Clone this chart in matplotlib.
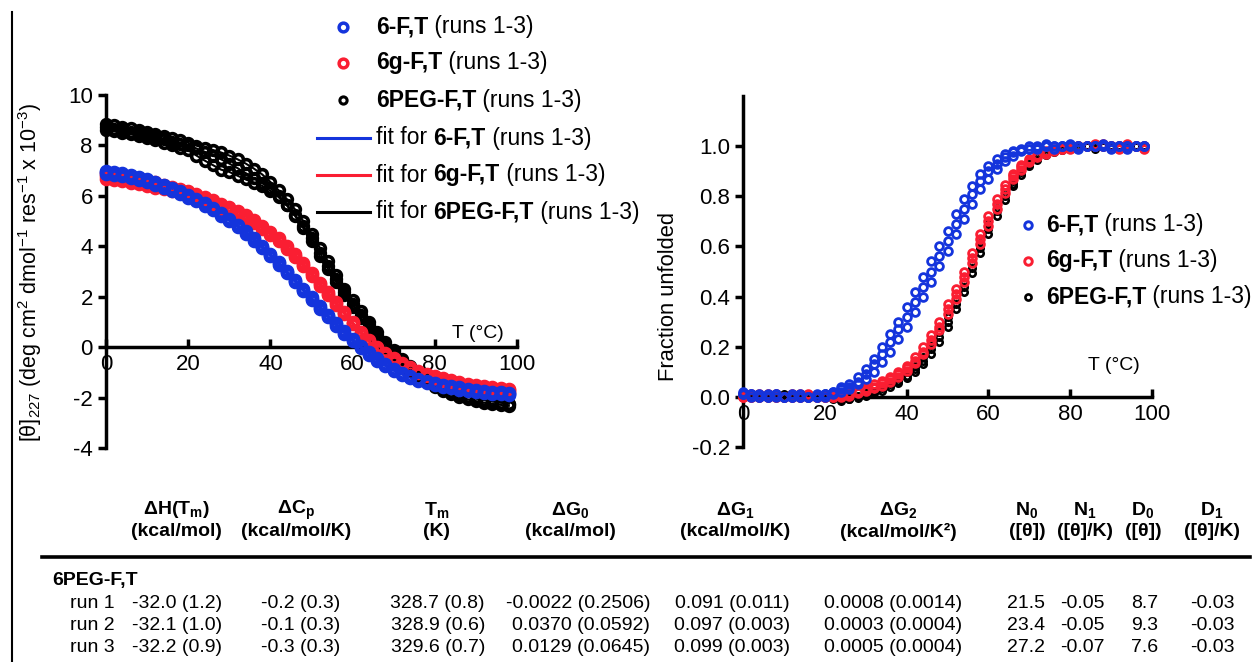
import matplotlib
matplotlib.use("Agg")
import matplotlib.pyplot as plt
from matplotlib.lines import Line2D

plt.rcParams['font.family'] = ['Liberation Sans', 'DejaVu Sans']
plt.rcParams['mathtext.fontset'] = 'custom'
plt.rcParams['mathtext.rm'] = 'Liberation Sans'
plt.rcParams['mathtext.it'] = 'Liberation Sans:italic'
plt.rcParams['mathtext.bf'] = 'Liberation Sans:bold'
plt.rcParams['axes.unicode_minus'] = False

# Temperaturas (°C)
temps = [0, 2, 4, 6, 8, 10, 12, 14, 16, 18, 20, 22, 24, 26, 28, 30, 32, 34, 36, 38,
         40, 42, 44, 46, 48, 50, 52, 54, 56, 58, 60, 62, 64, 66, 68, 70, 72, 74, 76, 78,
         80, 82, 84, 86, 88, 90, 92, 94, 96, 98]

# [theta]227 x 10^-3, runs 1-3
blue_cd1 = [7.0, 6.95, 6.89, 6.82, 6.74, 6.65, 6.55, 6.44, 6.32, 6.19, 6.05, 5.89, 5.72, 5.53, 5.32, 5.1, 4.86, 4.6, 4.32, 4.02,
            3.7, 3.37, 3.03, 2.68, 2.32, 1.97, 1.62, 1.28, 0.95, 0.63, 0.33, 0.05, -0.21, -0.45, -0.67, -0.86, -1.01, -1.14, -1.25, -1.34,
            -1.42, -1.49, -1.55, -1.6, -1.65, -1.69, -1.73, -1.76, -1.79, -1.82]
blue_cd2 = [6.95, 6.9, 6.84, 6.77, 6.69, 6.6, 6.5, 6.39, 6.27, 6.14, 6.0, 5.84, 5.67, 5.48, 5.27, 5.05, 4.81, 4.55, 4.27, 3.97,
            3.65, 3.32, 2.98, 2.63, 2.27, 1.92, 1.57, 1.23, 0.9, 0.58, 0.28, 0.0, -0.26, -0.5, -0.72, -0.9, -1.05, -1.18, -1.29, -1.38,
            -1.46, -1.53, -1.59, -1.64, -1.69, -1.73, -1.77, -1.8, -1.83, -1.86]
blue_cd3 = [6.88, 6.83, 6.77, 6.7, 6.62, 6.53, 6.43, 6.32, 6.2, 6.07, 5.93, 5.78, 5.61, 5.42, 5.22, 5.0, 4.76, 4.5, 4.22, 3.92,
            3.6, 3.27, 2.93, 2.58, 2.22, 1.87, 1.52, 1.18, 0.85, 0.54, 0.24, -0.04, -0.3, -0.54, -0.76, -0.94, -1.09, -1.22, -1.33, -1.42,
            -1.5, -1.57, -1.63, -1.68, -1.73, -1.77, -1.81, -1.84, -1.87, -1.9]
red_cd1 = [6.9, 6.85, 6.79, 6.73, 6.67, 6.6, 6.53, 6.45, 6.37, 6.28, 6.18, 6.07, 5.95, 5.82, 5.68, 5.56, 5.41, 5.24, 5.04, 4.82,
           4.58, 4.31, 4.01, 3.68, 3.33, 2.96, 2.56, 2.18, 1.8, 1.4, 1.0, 0.62, 0.3, 0.01, -0.24, -0.45, -0.63, -0.79, -0.93, -1.05,
           -1.15, -1.24, -1.32, -1.39, -1.45, -1.5, -1.55, -1.59, -1.63, -1.67]
red_cd2 = [6.78, 6.73, 6.68, 6.62, 6.56, 6.5, 6.43, 6.36, 6.28, 6.19, 6.09, 5.98, 5.86, 5.73, 5.6, 5.5, 5.35, 5.18, 4.98, 4.76,
           4.52, 4.25, 3.95, 3.62, 3.27, 2.9, 2.5, 2.12, 1.75, 1.35, 0.95, 0.57, 0.25, -0.04, -0.28, -0.49, -0.67, -0.83, -0.97, -1.09,
           -1.19, -1.28, -1.36, -1.43, -1.49, -1.54, -1.59, -1.63, -1.67, -1.71]
red_cd3 = [6.66, 6.62, 6.57, 6.52, 6.46, 6.4, 6.33, 6.26, 6.18, 6.1, 6.0, 5.9, 5.78, 5.65, 5.52, 5.42, 5.28, 5.11, 4.92, 4.7,
           4.46, 4.19, 3.89, 3.56, 3.21, 2.84, 2.44, 2.06, 1.69, 1.3, 0.9, 0.52, 0.2, -0.09, -0.33, -0.54, -0.72, -0.88, -1.02, -1.14,
           -1.24, -1.33, -1.41, -1.48, -1.54, -1.59, -1.64, -1.68, -1.72, -1.76]
black_cd1 = [8.85, 8.8, 8.74, 8.68, 8.61, 8.54, 8.46, 8.38, 8.29, 8.2, 8.1, 7.99, 7.9, 7.82, 7.72, 7.6, 7.45, 7.28, 7.08, 6.85,
             6.55, 6.22, 5.87, 5.46, 5.0, 4.5, 3.95, 3.4, 2.85, 2.3, 1.85, 1.42, 1.0, 0.6, 0.22, -0.13, -0.46, -0.76, -1.03, -1.26,
             -1.46, -1.62, -1.76, -1.87, -1.96, -2.03, -2.09, -2.15, -2.2, -2.24]
black_cd2 = [8.72, 8.67, 8.61, 8.55, 8.48, 8.41, 8.33, 8.24, 8.15, 8.06, 8.0, 7.88, 7.75, 7.6, 7.45, 7.28, 7.1, 6.9, 6.7, 6.5,
             6.3, 6.0, 5.65, 5.25, 4.8, 4.32, 3.75, 3.22, 2.7, 2.18, 1.7, 1.28, 0.88, 0.5, 0.13, -0.2, -0.52, -0.81, -1.06, -1.28,
             -1.47, -1.63, -1.77, -1.88, -1.97, -2.04, -2.1, -2.15, -2.2, -2.24]
black_cd3 = [8.62, 8.57, 8.51, 8.45, 8.38, 8.3, 8.21, 8.11, 8.0, 7.9, 7.8, 7.6, 7.4, 7.22, 7.04, 6.95, 6.8, 6.65, 6.52, 6.4,
             6.2, 5.95, 5.62, 5.2, 4.72, 4.2, 3.6, 3.1, 2.58, 2.06, 1.58, 1.15, 0.75, 0.38, 0.02, -0.3, -0.62, -0.9, -1.15, -1.38,
             -1.57, -1.73, -1.87, -1.98, -2.07, -2.14, -2.2, -2.25, -2.29, -2.33]

# Fraccion desplegada, runs 1-3
blue_fu1 = [0.02, 0.01, 0.01, 0.0, 0.01, 0.0, 0.0, 0.01, 0.0, 0.01, 0.01, 0.02, 0.04, 0.05, 0.08, 0.11, 0.15, 0.2, 0.25, 0.3,
            0.36, 0.42, 0.48, 0.54, 0.6, 0.66, 0.73, 0.79, 0.84, 0.89, 0.92, 0.95, 0.97, 0.98, 0.99, 1.0, 1.0, 1.01, 1.0, 1.0,
            1.01, 1.0, 1.0, 1.0, 1.01, 1.0, 1.0, 1.0, 1.0, 1.0]
blue_fu2 = [0.01, 0.01, 0.0, 0.0, 0.01, 0.0, 0.0, 0.0, 0.0, 0.0, 0.01, 0.02, 0.03, 0.04, 0.06, 0.09, 0.13, 0.17, 0.22, 0.27,
            0.32, 0.38, 0.44, 0.5, 0.56, 0.62, 0.69, 0.75, 0.81, 0.86, 0.9, 0.93, 0.955, 0.975, 0.985, 0.99, 0.995, 1.0, 1.0, 1.0,
            1.0, 1.0, 1.0, 1.0, 1.0, 1.0, 1.0, 1.0, 1.0, 1.0]
blue_fu3 = [0.01, 0.0, 0.0, 0.01, 0.0, 0.0, 0.01, 0.0, 0.0, 0.0, 0.0, 0.01, 0.02, 0.03, 0.05, 0.07, 0.1, 0.14, 0.18, 0.23,
            0.28, 0.34, 0.4, 0.46, 0.52, 0.58, 0.65, 0.71, 0.77, 0.83, 0.87, 0.91, 0.94, 0.96, 0.98, 0.99, 0.99, 1.0, 0.99, 1.0,
            1.0, 0.99, 1.0, 1.0, 1.0, 0.99, 1.0, 0.99, 1.0, 1.0]
red_fu1 = [0.0, 0.01, 0.0, 0.0, 0.01, 0.0, 0.0, 0.0, 0.01, 0.0, 0.0, 0.005, 0.01, 0.015, 0.025, 0.035, 0.05, 0.065, 0.08, 0.1,
           0.125, 0.16, 0.2, 0.245, 0.3, 0.37, 0.43, 0.5, 0.575, 0.65, 0.72, 0.79, 0.845, 0.89, 0.925, 0.95, 0.965, 0.98, 0.99, 0.995,
           1.0, 1.0, 1.0, 1.0, 1.01, 1.0, 1.0, 1.0, 1.0, 0.99]
red_fu2 = [0.01, 0.0, 0.01, 0.0, 0.0, 0.0, 0.01, 0.0, 0.0, 0.0, 0.0, 0.0, 0.005, 0.01, 0.02, 0.03, 0.04, 0.055, 0.07, 0.09,
           0.115, 0.145, 0.18, 0.225, 0.28, 0.35, 0.41, 0.48, 0.555, 0.63, 0.7, 0.77, 0.83, 0.88, 0.915, 0.94, 0.96, 0.975, 0.985, 0.99,
           0.995, 1.0, 1.0, 1.01, 1.0, 1.0, 1.0, 1.01, 1.0, 1.0]
red_fu3 = [0.0, 0.0, 0.0, 0.01, 0.0, 0.0, 0.0, 0.01, 0.0, 0.0, 0.0, 0.0, 0.0, 0.005, 0.015, 0.025, 0.035, 0.045, 0.06, 0.08,
           0.105, 0.135, 0.17, 0.21, 0.265, 0.33, 0.39, 0.46, 0.535, 0.61, 0.68, 0.75, 0.815, 0.87, 0.905, 0.935, 0.955, 0.97, 0.98, 0.99,
           0.99, 1.0, 1.0, 1.0, 1.0, 1.0, 0.99, 1.0, 1.0, 1.0]
black_fu1 = [0.0, 0.01, 0.0, 0.01, 0.0, 0.0, 0.01, 0.0, 0.0, 0.01, 0.0, 0.0, -0.005, 0.0, 0.005, 0.015, 0.025, 0.04, 0.06, 0.075,
             0.1, 0.125, 0.16, 0.205, 0.26, 0.32, 0.39, 0.46, 0.535, 0.615, 0.69, 0.755, 0.815, 0.86, 0.9, 0.935, 0.96, 0.975, 0.985, 0.99,
             0.995, 1.0, 1.0, 1.0, 1.0, 1.0, 1.0, 1.0, 1.0, 1.0]
black_fu2 = [0.01, 0.0, 0.0, 0.0, 0.01, 0.0, 0.0, 0.0, 0.01, 0.0, 0.0, 0.0, -0.01, -0.01, 0.0, 0.01, 0.02, 0.035, 0.05, 0.065,
             0.085, 0.11, 0.145, 0.19, 0.24, 0.3, 0.37, 0.44, 0.515, 0.595, 0.67, 0.74, 0.8, 0.85, 0.895, 0.93, 0.955, 0.97, 0.98, 0.99,
             0.99, 0.995, 1.0, 1.0, 1.0, 1.0, 1.0, 1.0, 1.0, 1.0]
black_fu3 = [0.0, 0.0, 0.01, 0.0, 0.0, 0.01, 0.0, 0.0, 0.0, 0.0, 0.0, -0.01, -0.015, -0.01, -0.005, 0.005, 0.015, 0.025, 0.04, 0.055,
             0.075, 0.1, 0.13, 0.17, 0.22, 0.28, 0.35, 0.42, 0.495, 0.575, 0.65, 0.72, 0.785, 0.84, 0.885, 0.92, 0.945, 0.965, 0.975, 0.985,
             0.99, 0.99, 1.0, 0.99, 1.0, 1.0, 1.0, 0.99, 1.0, 1.0]

# Tabla de parametros (6PEG-F,T)
run_labels = ['run 1', 'run 2', 'run 3']
col_dH = ['-32.0 (1.2)', '-32.1 (1.0)', '-32.2 (0.9)']
col_dCp = ['-0.2 (0.3)', '-0.1 (0.3)', '-0.3 (0.3)']
col_Tm = ['328.7 (0.8)', '328.9 (0.6)', '329.6 (0.7)']
col_dG0 = ['-0.0022 (0.2506)', '0.0370 (0.0592)', '0.0129 (0.0645)']
col_dG1 = ['0.091 (0.011)', '0.097 (0.003)', '0.099 (0.003)']
col_dG2 = ['0.0008 (0.0014)', '0.0003 (0.0004)', '0.0005 (0.0004)']
col_N0 = ['21.5', '23.4', '27.2']
col_N1 = ['-0.05', '-0.05', '-0.07']
col_D0 = ['8.7', '9.3', '7.6']
col_D1 = ['-0.03', '-0.03', '-0.03']
head_top = [r'$\mathbf{\Delta H(T_m)}$', r'$\mathbf{\Delta C_p}$', r'$\mathbf{T_m}$', r'$\mathbf{\Delta G_0}$',
            r'$\mathbf{\Delta G_1}$', r'$\mathbf{\Delta G_2}$', r'$\mathbf{N_0}$', r'$\mathbf{N_1}$',
            r'$\mathbf{D_0}$', r'$\mathbf{D_1}$']
head_units = ['(kcal/mol)', '(kcal/mol/K)', '(K)', '(kcal/mol)', '(kcal/mol/K)', '(kcal/mol/K²)',
              '([θ])', '([θ]/K)', '([θ])', '([θ]/K)']

BLUE = '#1434dc'
RED = '#fa1e32'
BLACK = '#000000'

W, H = 1256, 662
fig = plt.figure(figsize=(W / 100, H / 100), dpi=100)
rend = fig.canvas.get_renderer()


def px_axes(x0, y0, x1, y1):
    return fig.add_axes([x0 / W, 1 - y1 / H, (x1 - x0) / W, (y1 - y0) / H])


def estilo(ax):
    ax.patch.set_visible(False)
    for s in ['top', 'right']:
        ax.spines[s].set_visible(False)
    ax.spines['bottom'].set_position(('data', 0))
    ax.spines['left'].set_linewidth(2.5)
    ax.spines['bottom'].set_linewidth(2.5)
    ax.tick_params(axis='x', direction='in', length=6, width=2.5, labelsize=16, pad=5)
    ax.tick_params(axis='y', direction='out', length=5.5, width=2.5, labelsize=16, pad=4)
    ax.set_xlim(0, 100)
    ax.set_xticks([0, 20, 40, 60, 80, 100])


def rich(x, y, partes, size):
    # texto con partes en negrita
    for s, negrita in partes:
        t = fig.text(x / W, 1 - y / H, s, fontsize=size, fontweight='bold' if negrita else 'normal',
                     va='center', ha='left')
        x += t.get_window_extent(renderer=rend).width


def marca(x, y, color, ms, mew):
    fig.add_artist(Line2D([x / W], [1 - y / H], marker='o', ms=ms, mew=mew, mfc='none', mec=color,
                          ls='none', transform=fig.transFigure))


def linea(x0, x1, y, color, lw):
    fig.add_artist(Line2D([x0 / W, x1 / W], [1 - y / H, 1 - y / H], color=color, lw=lw,
                          transform=fig.transFigure))


# Panel izquierdo: CD
ax1 = px_axes(106, 95, 517, 448)
estilo(ax1)
ax1.set_ylim(-4, 10)
ax1.set_yticks([-4, -2, 0, 2, 4, 6, 8, 10])
series_cd = [([black_cd1, black_cd2, black_cd3], BLACK, 7.0, 2.6),
             ([red_cd1, red_cd2, red_cd3], RED, 6.8, 3.0),
             ([blue_cd1, blue_cd2, blue_cd3], BLUE, 6.8, 3.0)]
for runs, color, ms, mew in series_cd:
    for r in runs:
        ax1.plot(temps, r, '-', color=color, lw=1.5, zorder=3)
z = 4
for runs, color, ms, mew in series_cd:
    for r in runs:
        ax1.plot(temps, r, 'o', ms=ms, mew=mew, mfc='none', mec=color, ls='none', zorder=z, clip_on=False)
        z += 1

# Panel derecho: fraccion desplegada
ax2 = px_axes(743, 96, 1152, 447)
estilo(ax2)
ax2.set_ylim(-0.2, 1.2)
ax2.set_yticks([-0.2, 0.0, 0.2, 0.4, 0.6, 0.8, 1.0])
ax2.set_yticklabels(['-0.2', '0.0', '0.2', '0.4', '0.6', '0.8', '1.0'])
series_fu = [([black_fu1, black_fu2, black_fu3], BLACK, 4.6, 1.9),
             ([red_fu1, red_fu2, red_fu3], RED, 5.6, 2.0),
             ([blue_fu1, blue_fu2, blue_fu3], BLUE, 5.6, 2.0)]
z = 4
for runs, color, ms, mew in series_fu:
    for r in runs:
        ax2.plot(temps, r, 'o', ms=ms, mew=mew, mfc='none', mec=color, ls='none', zorder=z, clip_on=False)
        z += 1

# Etiquetas de ejes
fig.text(30 / W, 1 - 272 / H, '[θ]$_{\\mathit{227}}$ (deg cm$^{2}$ dmol$^{-1}$ res$^{-1}$ x 10$^{-3}$)',
         rotation=90, fontsize=15.5, ha='center', va='center')
fig.text(668 / W, 1 - 296 / H, 'Fraction unfolded', rotation=90, fontsize=15.8, ha='center', va='center')
fig.text(478 / W, 1 - 333 / H, 'T (°C)', fontsize=14, ha='center', va='center')
fig.text(1114 / W, 1 - 365 / H, 'T (°C)', fontsize=14, ha='center', va='center')

# Leyenda izquierda
nombres = ['6-F,T', '6g-F,T', '6PEG-F,T']
colores = [BLUE, RED, BLACK]
for i in range(3):
    y = [27, 63, 100][i]
    marca(343, y, colores[i], 6.3 if i < 2 else 5.2, 2.5 if i < 2 else 2.2)
    rich(376, y, [(nombres[i], True), (' (runs 1-3)', False)], 16.5)
for i in range(3):
    y = [138, 175, 212][i]
    linea(317, 370, y, colores[i], 2.2)
    rich(376, y, [('fit for ', False), (nombres[i], True), (' (runs 1-3)', False)], 16.5)

# Leyenda derecha
for i in range(3):
    y = [225, 261, 297][i]
    marca(1028, y, colores[i], 5.4 if i < 2 else 4.4, 2.1 if i < 2 else 1.9)
    rich(1046, y, [(nombres[i], True), (' (runs 1-3)', False)], 16.5)

# Linea vertical del borde
fig.add_artist(Line2D([12 / W, 12 / W], [1 - 12 / H, 0], color='black', lw=1.5, transform=fig.transFigure))

# Tabla
centros = [176, 296, 437, 570, 735, 898, 1027, 1085, 1143, 1212]
derechas = [222, 340, 485, 650, 790, 962, 1045, 1105, 1158, 1235]
for i in range(len(centros)):
    fig.text(centros[i] / W, 1 - 510 / H, head_top[i], fontsize=14, ha='center', va='center')
    fig.text(centros[i] / W, 1 - 532 / H, head_units[i], fontsize=14, fontweight='bold', ha='center', va='center')
linea(42, 1250, 557, 'black', 2.6)
fig.text(52 / W, 1 - 580 / H, '6PEG-F,T', fontsize=14, fontweight='bold', ha='left', va='center')
columnas = [col_dH, col_dCp, col_Tm, col_dG0, col_dG1, col_dG2, col_N0, col_N1, col_D0, col_D1]
for j in range(3):
    y = [604, 626, 648][j]
    fig.text(70 / W, 1 - y / H, run_labels[j], fontsize=14, ha='left', va='center')
    for i, col in enumerate(columnas):
        fig.text(derechas[i] / W, 1 - y / H, col[j], fontsize=14, ha='right', va='center')

fig.savefig('out.png', dpi=100)
